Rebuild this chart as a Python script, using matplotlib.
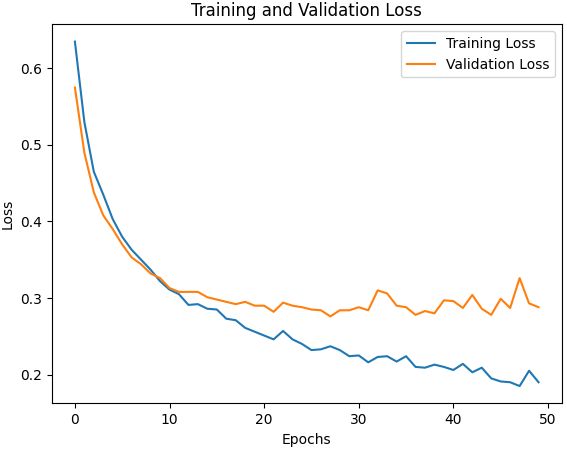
import matplotlib
matplotlib.use('Agg')
import matplotlib.pyplot as plt

# ---------------------------------
# loss history

epochs = list(range(50))

train_loss = [0.635, 0.530, 0.465, 0.435, 0.403, 0.380, 0.363, 0.350, 0.337, 0.322,
              0.311, 0.305, 0.291, 0.292, 0.286, 0.285, 0.273, 0.271, 0.261, 0.256,
              0.251, 0.246, 0.257, 0.246, 0.240, 0.232, 0.233, 0.237, 0.232, 0.224,
              0.225, 0.216, 0.223, 0.224, 0.217, 0.224, 0.210, 0.209, 0.213, 0.210,
              0.206, 0.214, 0.203, 0.209, 0.195, 0.191, 0.190, 0.185, 0.205, 0.190]

val_loss = [0.575, 0.490, 0.438, 0.408, 0.390, 0.370, 0.353, 0.344, 0.332, 0.326,
            0.313, 0.308, 0.308, 0.308, 0.301, 0.298, 0.295, 0.292, 0.295, 0.290,
            0.290, 0.282, 0.294, 0.290, 0.288, 0.285, 0.284, 0.276, 0.284, 0.284,
            0.288, 0.284, 0.310, 0.306, 0.290, 0.288, 0.278, 0.283, 0.280, 0.297,
            0.296, 0.287, 0.304, 0.286, 0.278, 0.299, 0.287, 0.326, 0.293, 0.288]

# ---------------------------------
# plot

fig = plt.figure(figsize=(5.67, 4.51), dpi=100)
ax = fig.add_subplot(111)
fig.subplots_adjust(left=0.0912, right=0.9907, top=0.946, bottom=0.1058)

ax.plot(epochs, train_loss, label='Training Loss')
ax.plot(epochs, val_loss, label='Validation Loss')

ax.set_title('Training and Validation Loss')
ax.set_xlabel('Epochs')
ax.set_ylabel('Loss')
ax.legend()

fig.savefig('out.png', dpi=100)
